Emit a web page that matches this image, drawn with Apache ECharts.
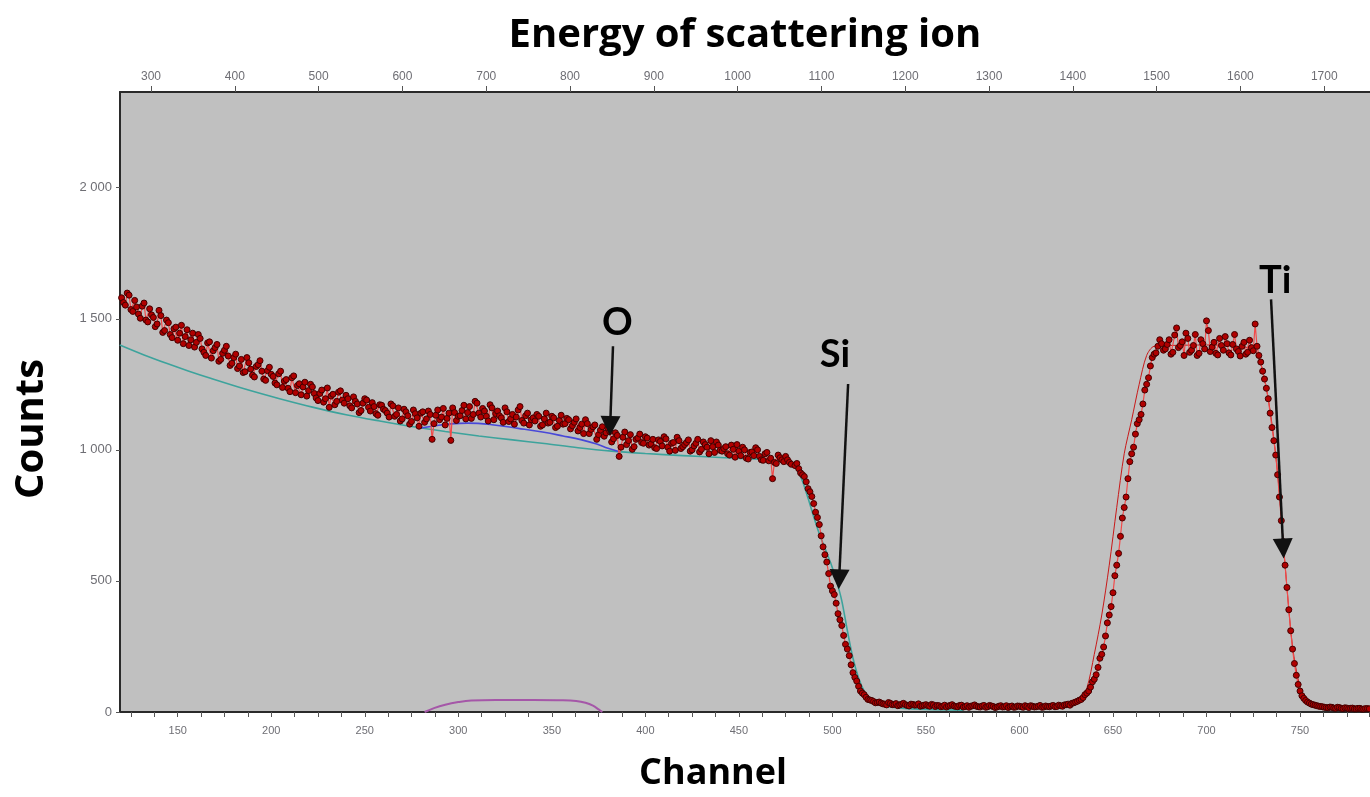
<!DOCTYPE html>
<html>
<head>
<meta charset="utf-8">
<script src="https://cdn.jsdelivr.net/npm/echarts@6/dist/echarts.min.js"></script>
<style>
html,body{margin:0;padding:0;background:#fff;}
#chart{width:1370px;height:797px;}
</style>
</head>
<body>
<div id="chart"></div>
<script>
// ---- Data ----
// Each segment: first channel, then counts every 2 channels.

// even channels
const evenLowEnergy = {start:120, counts:[
  1580,1552,1590,1528,1545,1502,1560,1488,1515,1470,1532,
  1448,1495,1440,1462,1418,1475,1432,1398,1445,1410,
  1425,1372,1408,1350,1390,1338,1368,1395,1322,1352,
  1310,1345,1298,1332,1285,1318,1340,1270,1302,1288,
  1255,1290,1238,1268,1222,1282,1245,1210,1258,1226,
  1240,1198,1215,1182,1236,1205,1172,1220,1190,1208,
  1168,1202,1175,1150,1195,1162,1180,1138,1172,1155,
  1140,1175,1128,1160,1118,1145,1098,1152,1122,1140,
  1105,1148,1040,1132,1115,1158,1120,1036,1142,1128,
  1150,1118,1165,1135,1178,1125,1148,1110,1160,1138,
  1130,1105,1145,1118,1098,1152,1112,1130,1095,1122,
  1135,1090,1118,1102,1128,1085,1112,1098,1120,1080,
  1105,1072,1098,1115,1062,1088,1040,1075,1052,1082,
  1030,1065,975,1048,1020,1058,1012,1045,1028,1050,
  1018,1040,1005,1032,1050,1010,1025,998,1035,1012,
  1028,995,1015,1040,1002,1020,985,1012,1030,998,
  1005,985,1018,972,995,1010,968,990,978,1000,
  962,985,958,890,948,970,955,962,945]};
const evenSiEdge = {start:480, counts:[940,928,905,878,840,795,742,672,600,528,462,415,352,292,240,180,132,98,72,56,46,40,36]};
const evenGap = {start:526, counts:[34,30,36,28,32,27,33,25,30,26,31,24,28,22,27,25,20,26,23,28,21,25,19,24,22,27,20,23,18,25,21,19,24,20,17,23,19,22,18,21,24,19,22,18,23,20,25,21,24,27,30,33,38]};
const evenTiRise = {start:632, counts:[45,55,72,95,125,170,220,290,370,455,560,670,780,890,985,1060,1115,1175,1250,1320,1365,1395,1405]};
const evenTiPlateau = {start:678, counts:[1385,1420,1372,1465,1398,1360,1425,1380,1440,1368,1405,1492,1375,1410,1362,1398,1432,1370,1402,1385,1358,1410,1372,1390,1480]};
const evenTiEdge = {start:728, counts:[1360,1300,1235,1140,1035,905,730,560,390,240,140,80,52,38,30,26,22]};
const evenTail = {start:762, counts:[20,17,19,15,18,14,16,13,15,12,14,11,13,12]};

// odd channels
const oddLowEnergy = {start:121, counts:[
  1562,1598,1535,1570,1518,1548,1495,1538,1505,1480,
  1512,1455,1485,1428,1468,1445,1405,1458,1420,1392,
  1440,1385,1360,1412,1378,1402,1345,1380,1358,1330,
  1365,1320,1295,1352,1308,1278,1325,1300,1265,1315,
  1280,1248,1300,1262,1235,1275,1218,1252,1240,1205,
  1250,1215,1188,1228,1195,1162,1212,1185,1225,1178,
  1195,1160,1185,1142,1178,1190,1148,1165,1132,1170,
  1150,1125,1168,1135,1110,1155,1130,1108,1138,1090,
  1145,1118,1135,1100,1152,1125,1095,1140,1160,1112,
  1130,1170,1142,1120,1185,1140,1158,1128,1172,1115,
  1148,1122,1160,1108,1135,1125,1165,1102,1140,1115,
  1110,1128,1095,1140,1105,1122,1090,1132,1100,1115,
  1092,1118,1085,1062,1100,1078,1095,1058,1088,1065,
  1070,1042,1055,1010,1068,1035,1002,1040,1060,1025,
  1045,1022,1008,1038,1015,1042,995,1028,1048,1005,
  1020,1038,1000,1025,992,1030,1010,1035,990,1018,
  995,1012,980,1002,1020,978,1000,965,992,1008,
  975,960,990,968,952,980,962,975,952]};
const oddSiEdge = {start:481, counts:[948,912,898,852,822,762,715,630,572,480,448,375,330,258,215,150,118,80,66,48,44,35]};
const oddGap = {start:525, counts:[38,31,27,33,29,24,30,28,23,29,27,22,26,24,29,21,24,22,19,25,23,20,26,21,18,24,22,19,25,20,23,17,22,19,24,21,18,23,20,24,17,22,20,25,19,21,23,20,26,22,28,26,35,41]};
const oddTiRise = {start:633, counts:[48,66,80,115,142,205,248,340,402,520,605,740,820,955,1010,1100,1135,1228,1275,1352,1370,1420,1380]};
const oddTiPlateau = {start:679, counts:[1402,1365,1438,1390,1412,1445,1372,1398,1360,1420,1385,1455,1392,1368,1425,1380,1405,1362,1440,1375,1395,1365,1418,1378,1395]};
const oddTiEdge = {start:729, counts:[1335,1270,1195,1085,980,820,650,475,310,185,105,62,44,34,28,24,21]};
const oddTail = {start:763, counts:[18,16,18,14,17,13,15,14,12,14,11,13,12]};

// simulated Si contribution (teal)
const simSi = [[119,1400],[132,1362],[144,1330],[156,1300],[168,1272],[186,1232],[204,1196],[222,1163],[240,1134],[258,1110],[275,1089],[293,1070],[311,1053],[329,1038],[346,1024],[364,1008],[382,995],[400,986],[420,978],[440,971],[460,964],[473,955],[478,945],[481,925],[484,880],[487,815],[490,745],[493,680],[496,625],[499,570],[502,505],[505,425],[508,310],[511,205],[514,130],[517,80],[520,52],[524,32],[530,20],[540,13],[555,9],[570,7]];
// simulated total in the O region (blue)
const simTotalO = [[280,1083],[288,1092],[296,1099],[305,1102],[318,1096],[332,1082],[345,1068],[356,1053],[366,1038],[374,1022],[380,1006],[386,993]];
// simulated O contribution (purple)
const simO = [[282,0],[287,15],[293,28],[300,38],[307,44],[320,46],[340,46],[356,45],[363,42],[368,35],[372,24],[375,10],[377,0]];
// simulated Ti contribution (thin red)
const simTi = [[600,18],[626,22],[632,40],[636,90],[640,220],[644,370],[648,560],[652,780],[656,985],[660,1115],[664,1250],[668,1360],[672,1395],[680,1398],[700,1400],[720,1392],[726,1380],[730,1300],[734,1150],[738,910],[742,560],[746,250],[750,95],[754,40],[760,22],[787,13]];

// element labels and arrows: [channel, counts]
const elementLabels = [
  {name:'O',  at:[385,1483], arrowFrom:[382.7,1395], arrowTo:[381.2,1091]},
  {name:'Si', at:[501.4,1361], arrowFrom:[508.4,1251], arrowTo:[503.6,506]},
  {name:'Ti', at:[736.7,1646], arrowFrom:[734.5,1574], arrowTo:[741,624]}
];

// axis ticks
const CHANNEL_TICKS = [150,200,250,300,350,400,450,500,550,600,650,700,750];
const ENERGY_TICKS = [300,400,500,600,700,800,900,1000,1100,1200,1300,1400,1500,1600,1700];
const COUNT_TICKS = [0,500,1000,1500,2000];

// ---- build ----
const segments = [evenLowEnergy, evenSiEdge, evenGap, evenTiRise, evenTiPlateau, evenTiEdge, evenTail,
                  oddLowEnergy, oddSiEdge, oddGap, oddTiRise, oddTiPlateau, oddTiEdge, oddTail];
const measured = [];
segments.forEach(s => s.counts.forEach((c, i) => measured.push([s.start + 2 * i, c])));
measured.sort((a, b) => a[0] - b[0]);

const channelMinor = [];
for (let i = 0; i < CHANNEL_TICKS.length; i++) {
  for (let k = -2; k < 2; k++) {
    const v = CHANNEL_TICKS[i] + k * 12.5;
    if (v > 119.5 && channelMinor.indexOf(v) < 0) channelMinor.push(v);
  }
}
channelMinor.push(762.5, 775, 787);

const fmtSpace = v => String(v).replace(/\B(?=(\d{3})+(?!\d))/g, ' ');
const tickFont = {fontFamily:'Liberation Sans', fontSize:11, color:'#6e6e74'};
const titleFont = {fontFamily:'Open Sans', fontWeight:'bold', color:'#000'};

const chart = echarts.init(document.getElementById('chart'), null, {renderer:'canvas'});
chart.setOption({
  animation:false,
  backgroundColor:'#ffffff',
  grid:{left:120, right:0, top:92, bottom:83, show:true, backgroundColor:'#c0c0c0', borderWidth:0},
  xAxis:[
    {type:'value', position:'bottom', min:119.15, max:787.4,
     name:'Channel', nameLocation:'middle', nameGap:44,
     nameTextStyle:Object.assign({fontSize:36, padding:[0,64,0,0]}, titleFont),
     axisLine:{show:true, onZero:false, lineStyle:{color:'#2a2a2a', width:2}},
     axisTick:{show:true, customValues:channelMinor, length:5, lineStyle:{color:'#555', width:1}},
     axisLabel:Object.assign({customValues:CHANNEL_TICKS, margin:13}, tickFont),
     splitLine:{show:false}},
    {type:'value', position:'top', min:263, max:1754.6,
     name:'Energy of scattering ion', nameLocation:'middle', nameGap:36,
     nameTextStyle:Object.assign({fontSize:40}, titleFont),
     axisLine:{show:true, onZero:false, lineStyle:{color:'#2a2a2a', width:2}},
     axisTick:{show:true, customValues:ENERGY_TICKS, length:6, lineStyle:{color:'#555', width:1}},
     axisLabel:Object.assign({customValues:ENERGY_TICKS, margin:9, formatter:v => String(v)}, tickFont, {fontSize:12}),
     splitLine:{show:false}},
  ],
  yAxis:{type:'value', min:0, max:2365,
     name:'Counts', nameLocation:'middle', nameGap:68, nameRotate:90,
     nameTextStyle:Object.assign({fontSize:40, padding:[0,54,0,0]}, titleFont),
     axisLine:{show:true, onZero:false, lineStyle:{color:'#2a2a2a', width:2}},
     axisTick:{show:true, customValues:COUNT_TICKS, length:4, lineStyle:{color:'#555', width:1}},
     axisLabel:Object.assign({customValues:COUNT_TICKS, margin:8, formatter:fmtSpace}, tickFont, {fontSize:13}),
     splitLine:{show:false}},
  series:[
    {type:'line', data:simO, smooth:0.4, symbol:'none', lineStyle:{color:'#a557a8', width:2}, z:2},
    {type:'line', data:simSi, smooth:0.3, symbol:'none', lineStyle:{color:'#3da39c', width:1.6}, z:2},
    {type:'line', data:simTotalO, smooth:0.4, symbol:'none', lineStyle:{color:'#4848d8', width:1.6}, z:3},
    {type:'line', data:simTi, smooth:0.3, symbol:'none', lineStyle:{color:'#c81818', width:1}, z:3},
    {type:'line', data:measured, symbol:'circle', symbolSize:6, showAllSymbol:true,
     lineStyle:{color:'#f24a4a', width:1.2},
     itemStyle:{color:'#b00000', borderColor:'#420000', borderWidth:1}, z:4},
    {type:'line', data:[], z:6, silent:true,
     markLine:{silent:true, symbol:['none','triangle'], symbolSize:20, animation:false,
       lineStyle:{color:'#111', width:2.5, type:'solid'}, label:{show:false},
       data:elementLabels.map(e => [{coord:e.arrowFrom}, {coord:e.arrowTo}])}},
    {type:'scatter', z:7, silent:true, symbolSize:1, itemStyle:{color:'rgba(0,0,0,0)'},
     data:elementLabels.map(e => ({name:e.name, value:e.at})),
     label:{show:true, position:'inside', formatter:'{b}', fontFamily:'Lato', fontWeight:'bold', fontSize:38,
            color:'#000', textBorderWidth:0, opacity:1}}
  ]
});
</script>
</body>
</html>
